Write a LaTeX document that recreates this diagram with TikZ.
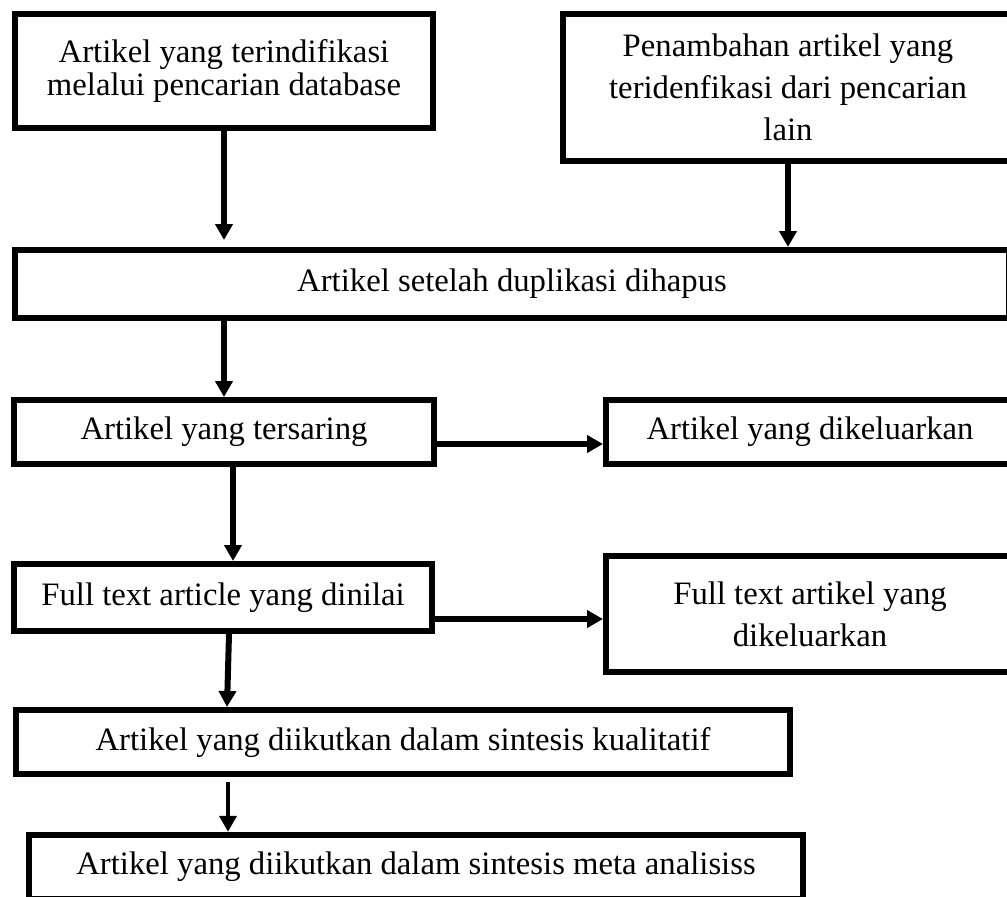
\documentclass[tikz,border=0pt]{standalone}
\usepackage{fontspec}
\setmainfont{Liberation Serif}
\usetikzlibrary{arrows.meta}

\begin{document}
\begin{tikzpicture}[x=0.5pt,y=-0.5pt,
    kotak/.style={draw, line width=3.2pt, align=center, inner sep=0pt,
      font=\fontsize{16.35}{21}\selectfont},
    panah/.style={line width=3pt, -{Triangle[length=8pt,width=8.5pt]}}]
      \useasboundingbox (0,0) rectangle (1007,896);
      \node[kotak, minimum width=208.8pt, minimum height=56.8pt,
        font=\fontsize{16.35}{16.5}\selectfont] (b1) at (224,71)
        {Artikel yang terindifikasi\\melalui pencarian database};
      \node[kotak, minimum width=224.8pt, minimum height=73.3pt] (b2) at (788,87.5)
        {Penambahan artikel yang\\teridenfikasi dari pencarian\\lain};
      \node[kotak, minimum width=496.8pt, minimum height=33.8pt] (b3) at (512,284)
        {Artikel setelah duplikasi dihapus};
      \node[kotak, minimum width=209.8pt, minimum height=31.8pt] (b4) at (224,432)
        {Artikel yang tersaring};
      \node[kotak, minimum width=203.8pt, minimum height=31.8pt] (b5) at (810,432)
        {Artikel yang dikeluarkan};
      \node[kotak, minimum width=208.8pt, minimum height=33.3pt] (b6) at (223,597.5)
        {Full text article yang dinilai};
      \node[kotak, minimum width=203.8pt, minimum height=57.8pt] (b7) at (810,614)
        {Full text artikel yang\\dikeluarkan};
      \node[kotak, minimum width=386.8pt, minimum height=31.8pt] (b8) at (403,742)
        {Artikel yang diikutkan dalam sintesis kualitatif};
      \node[kotak, minimum width=386.8pt, minimum height=32pt] (b9) at (416,867)
        {Artikel yang diikutkan dalam sintesis meta analisiss};

      \draw[panah, shorten >=3.5pt] (b1.south) -- (b1.south |- b3.north);
      \draw[panah] (b2.south) -- (b2.south |- b3.north);
      \draw[panah] (b4.north |- b3.south) -- (b4.north);
      \draw[panah] ([yshift=-6pt]b4.east) -- ([yshift=-6pt]b5.west);
      \draw[panah] ([xshift=4.5pt]b4.south) -- ([xshift=5pt]b6.north);
      \draw[panah] ([yshift=-10.75pt]b6.east) -- ([yshift=-2.5pt]b7.west);
      \draw[panah] ([xshift=3pt]b6.south) -- ([xshift=-88pt]b8.north);
      \draw[panah, line width=2.2pt] ([xshift=-87.5pt,yshift=-2.5pt]b8.south) -- ([xshift=-94pt]b9.north);

    \end{tikzpicture}
\end{document}
